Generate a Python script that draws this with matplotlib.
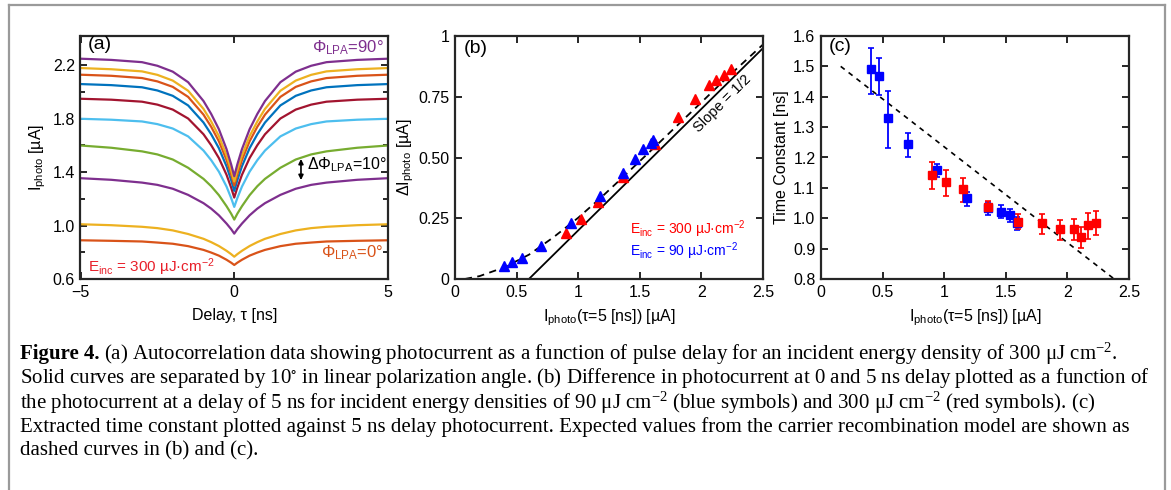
import numpy as np
import matplotlib.pyplot as plt
import matplotlib as mpl
from matplotlib.lines import Line2D

plt.rcParams['font.family'] = ['Liberation Sans', 'DejaVu Sans']
plt.rcParams['mathtext.default'] = 'regular'

# ---- panel (a): autocorrelation traces (one half, symmetric in tau) ----
tau_half = [0, 0.1, 0.25, 0.5, 0.75, 1.0, 1.5, 2.0, 2.5, 3.0, 4.0, 5.0]
traces = {
    "0":  [0.705, 0.722, 0.744, 0.775, 0.798, 0.818, 0.846, 0.864, 0.873, 0.881, 0.886, 0.89],
    "10": [0.767, 0.786, 0.811, 0.847, 0.876, 0.901, 0.937, 0.964, 0.981, 0.991, 1.003, 1.01],
    "20": [0.94, 0.973, 1.015, 1.077, 1.127, 1.168, 1.23, 1.276, 1.305, 1.322, 1.343, 1.355],
    "30": [1.045, 1.089, 1.145, 1.228, 1.295, 1.35, 1.433, 1.495, 1.533, 1.556, 1.583, 1.60],
    "40": [1.14, 1.206, 1.292, 1.404, 1.49, 1.562, 1.668, 1.727, 1.76, 1.78, 1.793, 1.80],
    "50": [1.21, 1.284, 1.38, 1.506, 1.602, 1.684, 1.802, 1.869, 1.906, 1.928, 1.943, 1.95],
    "60": [1.26, 1.34, 1.444, 1.58, 1.684, 1.772, 1.90, 1.972, 2.012, 2.036, 2.052, 2.06],
    "70": [1.30, 1.383, 1.491, 1.632, 1.74, 1.831, 1.964, 2.039, 2.08, 2.105, 2.122, 2.13],
    "80": [1.33, 1.415, 1.525, 1.67, 1.78, 1.874, 2.01, 2.086, 2.129, 2.155, 2.171, 2.18],
    "90": [1.37, 1.458, 1.572, 1.722, 1.836, 1.933, 2.074, 2.153, 2.197, 2.224, 2.241, 2.25],
}
matlab = ['#D95319', '#EDB120', '#7E2F8E', '#77AC30', '#4DBEEE', '#A2142F',
          '#0072BD', '#D95319', '#EDB120', '#7E2F8E']

# ---- panel (b): delta I vs I(5 ns) ----
x_red_b = [0.90, 1.02, 1.16, 1.36, 1.62, 1.81, 1.95, 2.06, 2.12, 2.18, 2.24]
y_red_b = [0.19, 0.245, 0.315, 0.42, 0.555, 0.665, 0.74, 0.80, 0.82, 0.84, 0.865]
x_blue_b = [0.40, 0.46, 0.54, 0.70, 0.94, 1.18, 1.36, 1.46, 1.53, 1.59, 1.61]
y_blue_b = [0.055, 0.07, 0.085, 0.135, 0.23, 0.34, 0.435, 0.495, 0.535, 0.56, 0.57]
model_x_b = [0.08, 0.2, 0.4, 0.6, 0.8, 1.0, 1.2, 1.4, 1.6, 1.8, 2.0, 2.2, 2.5]
model_y_b = [0.0, 0.012, 0.048, 0.10, 0.172, 0.252, 0.342, 0.437, 0.533, 0.63, 0.727, 0.825, 0.965]
slope_x = [0.6, 2.5]
slope_y = [0.0, 0.95]

# ---- panel (c): time constant ----
x_blue_c = [0.405, 0.467, 0.543, 0.705, 0.945, 1.182, 1.357, 1.457, 1.533, 1.588]
y_blue_c = [1.492, 1.469, 1.331, 1.243, 1.158, 1.066, 1.035, 1.021, 1.010, 0.985]
lo_blue_c = [1.408, 1.407, 1.232, 1.200, 1.136, 1.041, 1.010, 1.002, 0.989, 0.960]
hi_blue_c = [1.561, 1.526, 1.419, 1.281, 1.178, 1.088, 1.055, 1.044, 1.030, 1.004]
x_red_c = [0.899, 1.018, 1.153, 1.357, 1.600, 1.795, 1.941, 2.052, 2.114, 2.170, 2.230]
y_red_c = [1.141, 1.118, 1.095, 1.038, 0.988, 0.983, 0.964, 0.964, 0.938, 0.979, 0.985]
lo_red_c = [1.095, 1.073, 1.052, 1.019, 0.966, 0.949, 0.928, 0.927, 0.902, 0.931, 0.944]
hi_red_c = [1.184, 1.160, 1.134, 1.057, 1.013, 1.013, 0.995, 0.999, 0.971, 1.018, 1.023]
model_x_c = [0.16, 2.38]
model_y_c = [1.50, 0.80]

W, H = 1171, 490
fig = plt.figure(figsize=(W / 100, H / 100), dpi=100)

spine_c = '#262626'
fs = 11.5


def style(ax):
    for s in ax.spines.values():
        s.set_linewidth(1.6)
        s.set_color(spine_c)
    ax.tick_params(which='both', direction='in', top=True, right=True,
                   width=1.4, color=spine_c, labelsize=fs, pad=4)
    ax.tick_params(which='major', length=5)
    ax.tick_params(which='minor', length=3.5)


def box(l, r):
    return [l / W, (H - 279) / H, (r - l) / W, 243 / H]


# (a)
ax = fig.add_axes(box(80.5, 388))
th = np.array(tau_half)
for col, key in zip(matlab, traces):
    v = np.array(traces[key])
    ax.plot(np.concatenate([-th[::-1], th[1:]]), np.concatenate([v[::-1], v[1:]]),
            color=col, lw=1.6)
ax.set_xlim(-5, 5)
ax.set_ylim(0.6, 2.42)
ax.set_xticks([-5, 0, 5])
ax.set_xticklabels(['\u22125', '0', '5'])
ax.set_yticks([0.6, 1.0, 1.4, 1.8, 2.2])
ax.set_yticks([0.8, 1.2, 1.6, 2.0], minor=True)
style(ax)
ax.set_xlabel('Delay, \u03c4 [ns]', fontsize=fs, labelpad=6)
ax.set_ylabel('I$_{photo}$ [\u00b5A]', fontsize=fs, labelpad=3)
ax.text(-4.75, 2.42, '(a)', fontsize=14, va='top', ha='left')
ax.text(4.85, 2.33, '\u03a6$_{LPA}$=90\u00b0', color='#7E2F8E', fontsize=12,
        ha='right', va='center')
ax.text(4.85, 0.80, '\u03a6$_{LPA}$=0\u00b0', color='#D95319', fontsize=12,
        ha='right', va='center')
ax.text(2.37, 1.46, '\u0394\u03a6$_{LPA}$=10\u00b0', fontsize=11.5, ha='left', va='center')
ax.annotate('', xy=(2.17, 1.52), xytext=(2.17, 1.32),
            arrowprops=dict(arrowstyle='<|-|>', color='k', lw=1.2,
                            mutation_scale=7))
ax.text(-4.75, 0.69, 'E$_{inc}$ = 300 \u00b5J\u00b7cm$^{-2}$', color='#E8202A',
        fontsize=11, ha='left', va='center')

# (b)
ax = fig.add_axes(box(455, 763))
ax.plot(model_x_b, model_y_b, color='k', ls=(0, (4, 3)), lw=1.3)
ax.plot(slope_x, slope_y, color='k', lw=1.3)
ax.plot(x_red_b, y_red_b, '^', color='#FF0000', ms=7, mec='#FF0000')
ax.plot(x_blue_b, y_blue_b, '^', color='#0000FF', ms=7, mec='#0000FF')
ax.set_xlim(0, 2.5)
ax.set_ylim(0, 1)
ax.set_xticks([0, 0.5, 1, 1.5, 2, 2.5])
ax.set_xticklabels(['0', '0.5', '1', '1.5', '2', '2.5'])
ax.set_yticks([0, 0.25, 0.5, 0.75, 1])
ax.set_yticklabels(['0', '0.25', '0.50', '0.75', '1'])
style(ax)
ax.set_xlabel('I$_{photo}$(\u03c4=5 [ns]) [\u00b5A]', fontsize=fs, labelpad=6)
ax.set_ylabel('\u0394I$_{photo}$ [\u00b5A]', fontsize=fs, labelpad=2)
ax.text(0.07, 0.985, '(b)', fontsize=14, va='top', ha='left')
ax.text(2.17, 0.722, 'Slope = 1/2', fontsize=10.5, rotation=45,
        ha='center', va='center', rotation_mode='anchor')
ax.text(1.42, 0.205, 'E$_{inc}$ = 300 \u00b5J\u00b7cm$^{-2}$', color='#FF0000',
        fontsize=10, ha='left', va='center')
ax.text(1.42, 0.115, 'E$_{inc}$ = 90 \u00b5J\u00b7cm$^{-2}$', color='#0000FF',
        fontsize=10, ha='left', va='center')

# (c)
ax = fig.add_axes(box(821, 1129))
ax.plot(model_x_c, model_y_c, color='k', ls=(0, (3, 3)), lw=1.2)
yb = np.array(y_blue_c)
ax.errorbar(x_blue_c, yb, yerr=[yb - np.array(lo_blue_c), np.array(hi_blue_c) - yb],
            fmt='s', color='#0000FF', ms=5.5, capsize=2.5, elinewidth=1.3, capthick=1.2)
yr = np.array(y_red_c)
ax.errorbar(x_red_c, yr, yerr=[yr - np.array(lo_red_c), np.array(hi_red_c) - yr],
            fmt='s', color='#FF0000', ms=5.5, capsize=2.5, elinewidth=1.3, capthick=1.2)
ax.set_xlim(0, 2.5)
ax.set_ylim(0.8, 1.6)
ax.set_xticks([0, 0.5, 1, 1.5, 2, 2.5])
ax.set_xticklabels(['0', '0.5', '1', '1.5', '2', '2.5'])
ax.set_yticks(np.round(np.arange(0.8, 1.61, 0.1), 1))
style(ax)
ax.set_xlabel('I$_{photo}$(\u03c4=5 [ns]) [\u00b5A]', fontsize=fs, labelpad=6)
ax.set_ylabel('Time Constant [ns]', fontsize=fs, labelpad=3)
ax.text(0.06, 1.595, '(c)', fontsize=14, va='top', ha='left')

# frame around the figure
gray = '#9a9a9a'
fig.add_artist(Line2D([8.5 / W, 8.5 / W], [0, 1 - 5 / H], color=gray, lw=1.6))
fig.add_artist(Line2D([8.5 / W, 1165 / W], [1 - 5 / H, 1 - 5 / H], color=gray, lw=1.6))
fig.add_artist(Line2D([1165 / W, 1165 / W], [0, 1 - 5 / H], color=gray, lw=1.6))

# caption
cap = [
    '(a) Autocorrelation data showing photocurrent as a function of pulse delay for an incident energy density of 300 $\\mu$J cm$^{-2}$.',
    'Solid curves are separated by 10$^{\\circ}$ in linear polarization angle. (b) Difference in photocurrent at 0 and 5 ns delay plotted as a function of',
    'the photocurrent at a delay of 5 ns for incident energy densities of 90 $\\mu$J cm$^{-2}$ (blue symbols) and 300 $\\mu$J cm$^{-2}$ (red symbols). (c)',
    'Extracted time constant plotted against 5 ns delay photocurrent. Expected values from the carrier recombination model are shown as',
    'dashed curves in (b) and (c).',
]
ys = [354, 378, 403, 427, 451]
serif = ['Liberation Serif', 'DejaVu Serif']
cfs = 15
x0 = 20 / W
renderer = fig.canvas.get_renderer()
for i, (line, y) in enumerate(zip(cap, ys)):
    if i == 0:
        t = fig.text(x0, 1 - y / H, 'Figure 4.', fontsize=cfs, family=serif,
                     weight='bold', va='center', ha='left')
        bb = t.get_window_extent(renderer)
        fig.text(bb.x1 / W + 4 / W, 1 - y / H, line, fontsize=cfs, family=serif,
                 va='center', ha='left')
    else:
        fig.text(x0, 1 - y / H, line, fontsize=cfs, family=serif,
                 va='center', ha='left')

fig.savefig('out.png', dpi=100)
